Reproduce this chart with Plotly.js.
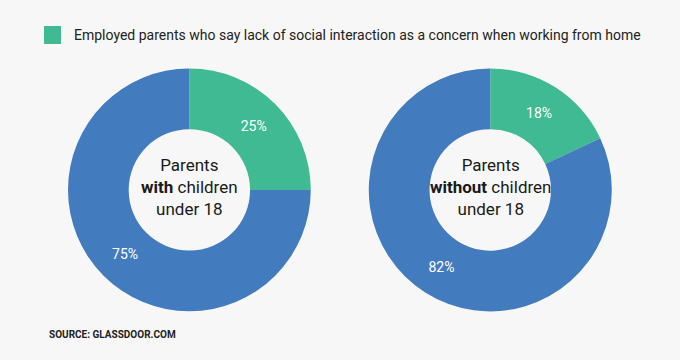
<!DOCTYPE html>
<html>
<head>
<meta charset="utf-8">
<script src="https://cdn.plot.ly/plotly-3.0.1.min.js"></script>
<style>
html,body{margin:0;padding:0;background:#f7f7f7;}
#chart{width:680px;height:360px;}
</style>
</head>
<body>
<div id="chart"></div>
<script>
const categories = ["Concerned about lack of social interaction", "Not concerned"];
const withChildren = [25, 75];
const withoutChildren = [18, 82];
const groupLabels = ["Parents<br><b>with</b> children<br>under 18", "Parents<br><b>without</b> children<br>under 18"];
const legendText = "Employed parents who say lack of social interaction as a concern when working from home";
const sourceText = "SOURCE: GLASSDOOR.COM";

const colors = ["#3fba92", "#437bbf"];
const font = "Roboto, 'Noto Sans', sans-serif";

function pie(values, dom) {
  return {
    type: "pie",
    labels: categories,
    values: values,
    hole: 0.5,
    sort: false,
    direction: "clockwise",
    rotation: 0,
    domain: dom,
    marker: {colors: colors, line: {width: 0}},
    texttemplate: "%{value}%",
    textposition: "inside",
    insidetextorientation: "horizontal",
    textfont: {family: font, size: 14, color: "#ffffff"},
    hoverinfo: "skip",
    showlegend: false
  };
}

const data = [
  pie(withChildren, {x: [0.1, 0.457], y: [0.135, 0.81]}),
  pie(withoutChildren, {x: [0.542, 0.9], y: [0.135, 0.81]})
];

const layout = {
  width: 680, height: 360,
  margin: {l: 0, r: 0, t: 0, b: 0},
  paper_bgcolor: "#f7f7f7",
  plot_bgcolor: "#f7f7f7",
  showlegend: false,
  shapes: [
    {type: "rect", xref: "paper", yref: "paper", x0: 44/680, x1: 61/680, y0: 1 - 44/360, y1: 1 - 26/360,
     fillcolor: colors[0], line: {width: 0}}
  ],
  annotations: [
    {text: legendText, xref: "paper", yref: "paper", x: 72/680, y: 1 - 35/360, xanchor: "left", yanchor: "middle",
     showarrow: false, font: {family: font, size: 14, color: "#222222"}},
    {text: groupLabels[0], xref: "paper", yref: "paper", x: 189.5/680, y: 1 - 187/360, xanchor: "center", yanchor: "middle",
     showarrow: false, font: {family: font, size: 17, color: "#1a1a1a"}},
    {text: groupLabels[1], xref: "paper", yref: "paper", x: 490.5/680, y: 1 - 187/360, xanchor: "center", yanchor: "middle",
     showarrow: false, font: {family: font, size: 17, color: "#1a1a1a"}},
    {text: "<b>" + sourceText + "</b>", xref: "paper", yref: "paper", x: 47/680, y: 1 - 334.5/360, xanchor: "left", yanchor: "middle",
     showarrow: false, font: {family: font, size: 10, color: "#222222"}}
  ]
};

Plotly.newPlot("chart", data, layout, {displayModeBar: false, staticPlot: true});
</script>
</body>
</html>
